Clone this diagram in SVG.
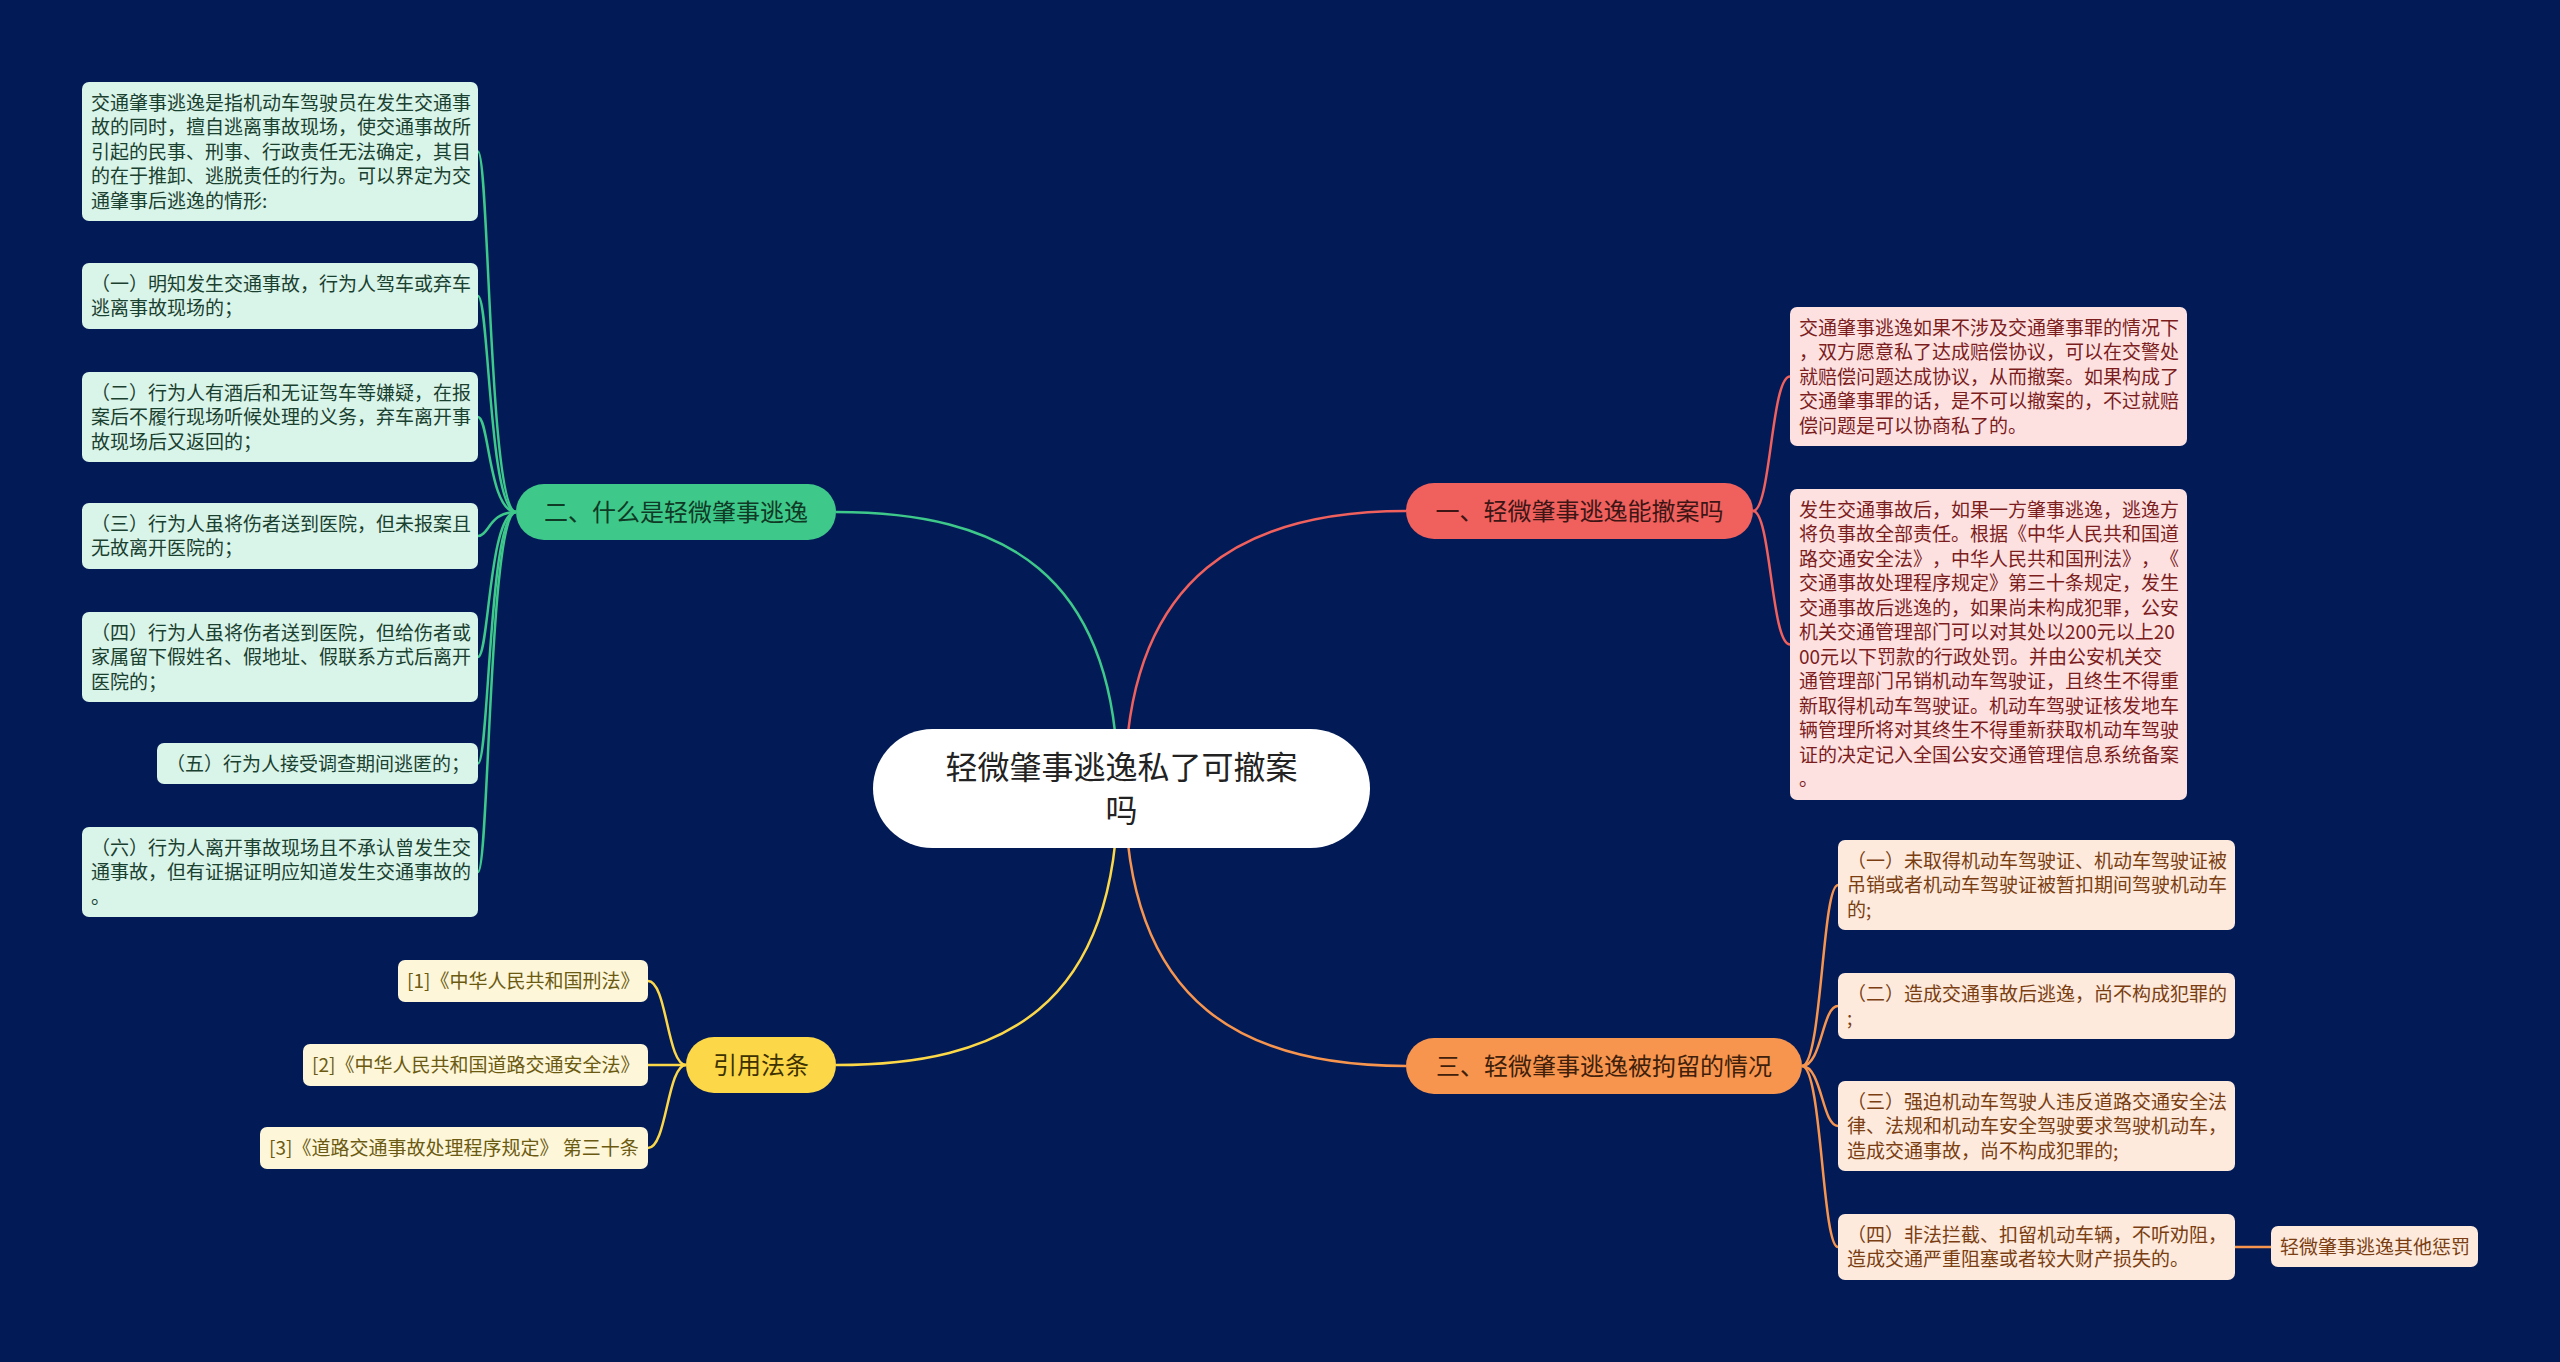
<svg xmlns="http://www.w3.org/2000/svg" width="2560" height="1362" viewBox="0 0 2560 1362">
<defs>
<style>
text{font-family:"Noto Sans CJK SC","Noto Sans",sans-serif;text-spacing-trim:space-all;font-kerning:none;}
.c{font-size:19px;}
.b{font-size:24px;}
.g rect{fill:#d9f4e8;}
.g text{fill:#1a4030;}
.r rect{fill:#fde1e1;}
.r text{fill:#7c1d1d;}
.o rect{fill:#fdeadc;}
.o text{fill:#7a3e12;}
.y rect{fill:#fdf6d8;}
.y text{fill:#6b5a12;}
.lk{fill:none;stroke-width:2.5;}
</style>
</defs>
<rect width="2560" height="1362" fill="#021b57"/>
<g id="connectors">
<path class="lk" stroke="#3ec98a" d="M1118 788 C1118 570,1000 512,836 512"/>
<path class="lk" stroke="#f0605d" d="M1125 788 C1125 570,1250 511,1406 511"/>
<path class="lk" stroke="#fcd748" d="M1118 788 C1118 1010,1000 1065,836 1065"/>
<path class="lk" stroke="#f7954f" d="M1125 788 C1125 1010,1250 1066,1406 1066"/>
<g stroke="#3ec98a" class="lk" stroke-width="2">
<path d="M516 512 C489 512,489 151.5,478 151.5"/>
<path d="M516 512 C489 512,489 296,478 296"/>
<path d="M516 512 C489 512,489 417,478 417"/>
<path d="M516 512 C489 512,489 536,478 536"/>
<path d="M516 512 C489 512,489 657,478 657"/>
<path d="M516 512 C489 512,489 763.5,478 763.5"/>
<path d="M516 512 C489 512,489 872,478 872"/>
</g>
<g stroke="#f0605d" class="lk" stroke-width="2">
<path d="M1753 511 C1771 511,1771 376.5,1790 376.5"/>
<path d="M1753 511 C1771 511,1771 644.5,1790 644.5"/>
</g>
<g stroke="#f7954f" class="lk" stroke-width="2">
<path d="M1802 1066 C1822 1066,1822 885,1838 885"/>
<path d="M1802 1066 C1822 1066,1822 1006,1838 1006"/>
<path d="M1802 1066 C1822 1066,1822 1126,1838 1126"/>
<path d="M1802 1066 C1822 1066,1822 1247,1838 1247"/>
<path d="M2235 1247 L2271 1247"/>
</g>
<g stroke="#fcd748" class="lk" stroke-width="2">
<path d="M686 1065 C667 1065,667 981,648 981"/>
<path d="M686 1065 C667 1065,667 1065,648 1065"/>
<path d="M686 1065 C667 1065,667 1148,648 1148"/>
</g>
</g>

<g id="root">
<rect x="873" y="729" width="497" height="119" rx="59.5" fill="#ffffff"/>
<text x="1121.5" text-anchor="middle" font-size="32" fill="#222222"><tspan x="1121.5" y="779">轻微肇事逃逸私了可撤案</tspan><tspan x="1121.5" y="822">吗</tspan></text>
</g>

<g id="b1">
<rect x="1406" y="483" width="347" height="56" rx="28" fill="#f0605d"/>
<text class="b" x="1579.5" y="520" text-anchor="middle" fill="#3d1515">一、轻微肇事逃逸能撤案吗</text>
</g>
<g id="b2">
<rect x="516" y="484" width="320" height="56" rx="28" fill="#3ec98a"/>
<text class="b" x="676" y="521" text-anchor="middle" fill="#0f3a25">二、什么是轻微肇事逃逸</text>
</g>
<g id="b3">
<rect x="1406" y="1038" width="396" height="56" rx="28" fill="#f7954f"/>
<text class="b" x="1604" y="1075" text-anchor="middle" fill="#40200a">三、轻微肇事逃逸被拘留的情况</text>
</g>
<g id="b4">
<rect x="686" y="1037" width="150" height="56" rx="28" fill="#fcd748"/>
<text class="b" x="761" y="1074" text-anchor="middle" fill="#3d3200">引用法条</text>
</g>

<g id="g1" class="g">
<rect x="82" y="82" width="396" height="139" rx="7"/>
<text class="c"><tspan x="91" y="109.5">交通肇事逃逸是指机动车驾驶员在发生交通事</tspan><tspan x="91" y="134">故的同时，擅自逃离事故现场，使交通事故所</tspan><tspan x="91" y="158.5">引起的民事、刑事、行政责任无法确定，其目</tspan><tspan x="91" y="183">的在于推卸、逃脱责任的行为。可以界定为交</tspan><tspan x="91" y="207.5">通肇事后逃逸的情形:</tspan></text>
</g>
<g id="g2" class="g">
<rect x="82" y="263" width="396" height="66" rx="7"/>
<text class="c"><tspan x="91" y="290.5">（一）明知发生交通事故，行为人驾车或弃车</tspan><tspan x="91" y="315">逃离事故现场的；</tspan></text>
</g>
<g id="g3" class="g">
<rect x="82" y="372" width="396" height="90" rx="7"/>
<text class="c"><tspan x="91" y="399.5">（二）行为人有酒后和无证驾车等嫌疑，在报</tspan><tspan x="91" y="424">案后不履行现场听候处理的义务，弃车离开事</tspan><tspan x="91" y="448.5">故现场后又返回的；</tspan></text>
</g>
<g id="g4" class="g">
<rect x="82" y="503" width="396" height="66" rx="7"/>
<text class="c"><tspan x="91" y="530.5">（三）行为人虽将伤者送到医院，但未报案且</tspan><tspan x="91" y="555">无故离开医院的；</tspan></text>
</g>
<g id="g5" class="g">
<rect x="82" y="612" width="396" height="90" rx="7"/>
<text class="c"><tspan x="91" y="639.5">（四）行为人虽将伤者送到医院，但给伤者或</tspan><tspan x="91" y="664">家属留下假姓名、假地址、假联系方式后离开</tspan><tspan x="91" y="688.5">医院的；</tspan></text>
</g>
<g id="g6" class="g">
<rect x="157" y="743" width="321" height="41" rx="7"/>
<text class="c" x="166" y="770.5">（五）行为人接受调查期间逃匿的；</text>
</g>
<g id="g7" class="g">
<rect x="82" y="827" width="396" height="90" rx="7"/>
<text class="c"><tspan x="91" y="854.5">（六）行为人离开事故现场且不承认曾发生交</tspan><tspan x="91" y="879">通事故，但有证据证明应知道发生交通事故的</tspan><tspan x="91" y="903.5">。</tspan></text>
</g>

<g id="r1" class="r">
<rect x="1790" y="307" width="397" height="139" rx="7"/>
<text class="c"><tspan x="1799" y="334.5">交通肇事逃逸如果不涉及交通肇事罪的情况下</tspan><tspan x="1799" y="359">，双方愿意私了达成赔偿协议，可以在交警处</tspan><tspan x="1799" y="383.5">就赔偿问题达成协议，从而撤案。如果构成了</tspan><tspan x="1799" y="408">交通肇事罪的话，是不可以撤案的，不过就赔</tspan><tspan x="1799" y="432.5">偿问题是可以协商私了的。</tspan></text>
</g>
<g id="r2" class="r">
<rect x="1790" y="489" width="397" height="311" rx="7"/>
<text class="c"><tspan x="1799" y="516.5">发生交通事故后，如果一方肇事逃逸，逃逸方</tspan><tspan x="1799" y="541">将负事故全部责任。根据《中华人民共和国道</tspan><tspan x="1799" y="565.5">路交通安全法》，中华人民共和国刑法》，《</tspan><tspan x="1799" y="590">交通事故处理程序规定》第三十条规定，发生</tspan><tspan x="1799" y="614.5">交通事故后逃逸的，如果尚未构成犯罪，公安</tspan><tspan x="1799" y="639">机关交通管理部门可以对其处以200元以上20</tspan><tspan x="1799" y="663.5">00元以下罚款的行政处罚。并由公安机关交</tspan><tspan x="1799" y="688">通管理部门吊销机动车驾驶证，且终生不得重</tspan><tspan x="1799" y="712.5">新取得机动车驾驶证。机动车驾驶证核发地车</tspan><tspan x="1799" y="737">辆管理所将对其终生不得重新获取机动车驾驶</tspan><tspan x="1799" y="761.5">证的决定记入全国公安交通管理信息系统备案</tspan><tspan x="1799" y="786">。</tspan></text>
</g>

<g id="o1" class="o">
<rect x="1838" y="840" width="397" height="90" rx="7"/>
<text class="c"><tspan x="1847" y="867.5">（一）未取得机动车驾驶证、机动车驾驶证被</tspan><tspan x="1847" y="892">吊销或者机动车驾驶证被暂扣期间驾驶机动车</tspan><tspan x="1847" y="916.5">的;</tspan></text>
</g>
<g id="o2" class="o">
<rect x="1838" y="973" width="397" height="66" rx="7"/>
<text class="c"><tspan x="1847" y="1000.5">（二）造成交通事故后逃逸，尚不构成犯罪的</tspan><tspan x="1847" y="1025">;</tspan></text>
</g>
<g id="o3" class="o">
<rect x="1838" y="1081" width="397" height="90" rx="7"/>
<text class="c"><tspan x="1847" y="1108.5">（三）强迫机动车驾驶人违反道路交通安全法</tspan><tspan x="1847" y="1133">律、法规和机动车安全驾驶要求驾驶机动车，</tspan><tspan x="1847" y="1157.5">造成交通事故，尚不构成犯罪的;</tspan></text>
</g>
<g id="o4" class="o">
<rect x="1838" y="1214" width="397" height="66" rx="7"/>
<text class="c"><tspan x="1847" y="1241.5">（四）非法拦截、扣留机动车辆，不听劝阻，</tspan><tspan x="1847" y="1266">造成交通严重阻塞或者较大财产损失的。</tspan></text>
</g>
<g id="o5" class="o">
<rect x="2271" y="1226" width="207" height="41" rx="7"/>
<text class="c" x="2280" y="1253.5">轻微肇事逃逸其他惩罚</text>
</g>

<g id="y1" class="y">
<rect x="398" y="960" width="250" height="42" rx="7"/>
<text class="c" x="407" y="988">[1]《中华人民共和国刑法》</text>
</g>
<g id="y2" class="y">
<rect x="303" y="1044" width="345" height="42" rx="7"/>
<text class="c" x="312" y="1072">[2]《中华人民共和国道路交通安全法》</text>
</g>
<g id="y3" class="y">
<rect x="260" y="1127" width="388" height="42" rx="7"/>
<text class="c" x="269" y="1155">[3]《道路交通事故处理程序规定》 第三十条</text>
</g>
</svg>
